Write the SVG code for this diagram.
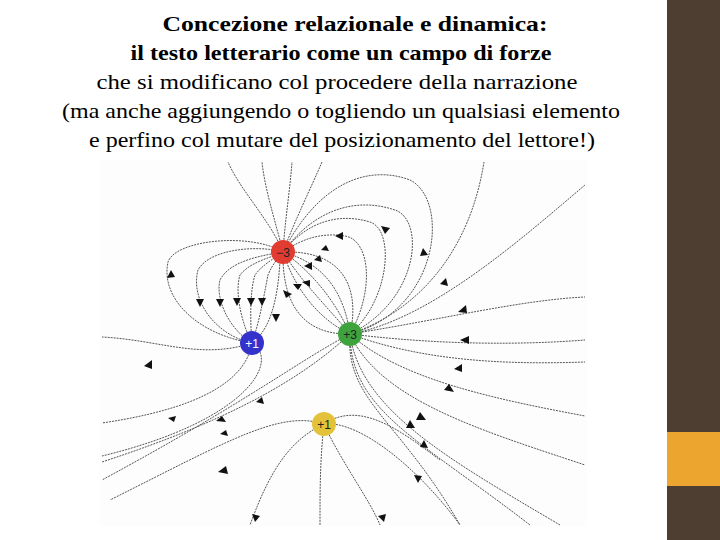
<svg xmlns="http://www.w3.org/2000/svg" width="720" height="540" viewBox="0 0 720 540">
<style>
.t{font-family:"Liberation Serif",serif;font-size:21px;fill:#000;text-anchor:middle}
.b{font-weight:bold}
.f{fill:none;stroke:#555;stroke-width:1;stroke-dasharray:2 1}
.a{fill:#111}
.c{font-family:"Liberation Sans",sans-serif;font-size:12px;text-anchor:middle}
</style>
<rect width="720" height="540" fill="#fff"/>
<rect x="667" y="0" width="53" height="540" fill="#4d3e31"/>
<rect x="667" y="432" width="53" height="54" fill="#eca52f"/>
<text class="t b" x="355" y="31" textLength="385" lengthAdjust="spacingAndGlyphs">Concezione relazionale e dinamica:</text>
<text class="t b" x="341" y="60" textLength="421" lengthAdjust="spacingAndGlyphs">il testo letterario come un campo di forze</text>
<text class="t" x="337" y="89" textLength="481" lengthAdjust="spacingAndGlyphs">che si modificano col procedere della narrazione</text>
<text class="t" x="341" y="118" textLength="558" lengthAdjust="spacingAndGlyphs">(ma anche aggiungendo o togliendo un qualsiasi elemento</text>
<text class="t" x="342" y="147" textLength="506" lengthAdjust="spacingAndGlyphs">e perfino col mutare del posizionamento del lettore!)</text>
<rect x="100" y="160" width="487" height="366" fill="#fdfdfd"/>
<g id="lines">
<path class="f" d="M252,343 C200,335 160,300 168,262 C175,240 250,232 283,252"/>
<path class="f" d="M252,343 C215,335 190,300 198,270 C210,248 260,245 283,252"/>
<path class="f" d="M252,343 C230,330 215,300 220,280 C230,260 265,255 283,252"/>
<path class="f" d="M252,343 C240,320 235,290 240,275 C250,262 270,258 283,252"/>
<path class="f" d="M252,343 C250,320 250,290 255,275 C262,265 275,258 283,252"/>
<path class="f" d="M252,343 C260,320 265,290 268,275 C272,265 278,258 283,252"/>
<path class="f" d="M252,343 C270,330 278,300 280,260"/>
<path class="f" d="M350,334 C300,335 282,300 283,252"/>
<path class="f" d="M350,334 C320,320 295,290 283,252"/>
<path class="f" d="M350,334 C330,310 300,280 283,252"/>
<path class="f" d="M350,334 C335,300 310,270 283,252"/>
<path class="f" d="M350,334 C345,300 330,265 283,252"/>
<path class="f" d="M350,334 C360,290 345,250 283,252"/>
<path class="f" d="M350,334 C375,290 370,240 345,236 C320,232 300,240 283,252"/>
<path class="f" d="M350,334 C390,300 395,230 370,222 C330,210 300,230 283,252"/>
<path class="f" d="M350,334 C420,300 425,220 395,210 C350,195 310,215 283,252"/>
<path class="f" d="M350,334 C440,310 450,200 410,180 C370,165 320,180 283,252"/>
<path class="f" d="M283,252 C270,220 240,190 228,162"/>
<path class="f" d="M283,252 C275,220 265,190 262,162"/>
<path class="f" d="M283,252 C285,220 290,190 292,162"/>
<path class="f" d="M283,252 C295,220 310,190 322,162"/>
<path class="f" d="M350,334 C420,310 470,250 484,162"/>
<path class="f" d="M350,334 C430,320 520,240 585,185"/>
<path class="f" d="M350,334 C440,320 520,300 585,297"/>
<path class="f" d="M350,334 C440,345 520,345 585,340"/>
<path class="f" d="M350,334 C420,360 500,365 585,362"/>
<path class="f" d="M350,334 C400,380 500,400 585,416"/>
<path class="f" d="M350,334 C380,400 480,430 585,465"/>
<path class="f" d="M350,334 C360,410 450,460 560,525"/>
<path class="f" d="M350,334 C350,410 420,440 530,525"/>
<path class="f" d="M350,334 C345,400 400,420 460,525"/>
<path class="f" d="M252,343 C200,360 160,340 102,337"/>
<path class="f" d="M252,343 C245,385 190,410 102,423"/>
<path class="f" d="M252,343 C280,360 250,420 102,456"/>
<path class="f" d="M350,334 C300,360 250,400 102,480"/>
<path class="f" d="M350,334 C300,380 230,420 102,462"/>
<path class="f" d="M324,424 C280,410 230,440 110,500"/>
<path class="f" d="M324,424 C290,440 270,470 250,525"/>
<path class="f" d="M324,424 C320,460 320,490 320,525"/>
<path class="f" d="M324,424 C340,460 370,500 380,525"/>
<path class="f" d="M324,424 C360,420 420,470 460,525"/>
<path class="f" d="M324,424 C360,400 400,430 440,460"/>
</g>
<g id="arrows" class="a">
<polygon points="171,270 167,278 175,277"/>
<polygon points="200,307 196,299 204,299"/>
<polygon points="220,307 216,299 224,299"/>
<polygon points="237,306 233,298 241,298"/>
<polygon points="251,306 247,298 255,298"/>
<polygon points="262,306 258,298 266,298"/>
<polygon points="276,322 272,314 280,314"/>
<polygon points="286,298 283,290 292,294"/>
<polygon points="298,290 293,284 302,284"/>
<polygon points="310,287 302,282 310,280"/>
<polygon points="312,270 304,266 312,262"/>
<polygon points="322,262 314,260 320,255"/>
<polygon points="329,251 321,250 326,245"/>
<polygon points="335,236 343,232 343,240"/>
<polygon points="385,234 381,226 390,228"/>
<polygon points="423,248 420,256 428,255"/>
<polygon points="446,278 440,284 448,286"/>
<polygon points="458,312 466,305 467,313"/>
<polygon points="460,340 469,336 469,344"/>
<polygon points="454,369 462,364 462,372"/>
<polygon points="444,390 449,384 454,392"/>
<polygon points="416,420 420,412 426,420"/>
<polygon points="406,428 410,420 415,428"/>
<polygon points="420,447 424,440 428,448"/>
<polygon points="418,483 414,475 422,476"/>
<polygon points="262,397 256,402 264,404"/>
<polygon points="144,366 152,360 152,369"/>
<polygon points="176,416 168,418 174,422"/>
<polygon points="216,421 222,416 226,422"/>
<polygon points="220,434 226,430 228,436"/>
<polygon points="218,472 226,466 228,474"/>
<polygon points="255,522 252,514 260,516"/>
<polygon points="384,522 378,516 386,514"/>
</g>
<g id="q1"><circle cx="283" cy="252" r="12" fill="#e03c32"/><text class="c" x="283" y="257" fill="#222">−3</text></g>
<g id="q2"><circle cx="350" cy="334" r="12" fill="#3ea33c"/><text class="c" x="350" y="339" fill="#222">+3</text></g>
<g id="q3"><circle cx="252" cy="343" r="12" fill="#3333cc"/><text class="c" x="252" y="348" fill="#fff">+1</text></g>
<g id="q4"><circle cx="324" cy="424" r="12" fill="#e3c23a"/><text class="c" x="324" y="429" fill="#222">+1</text></g>
</svg>
